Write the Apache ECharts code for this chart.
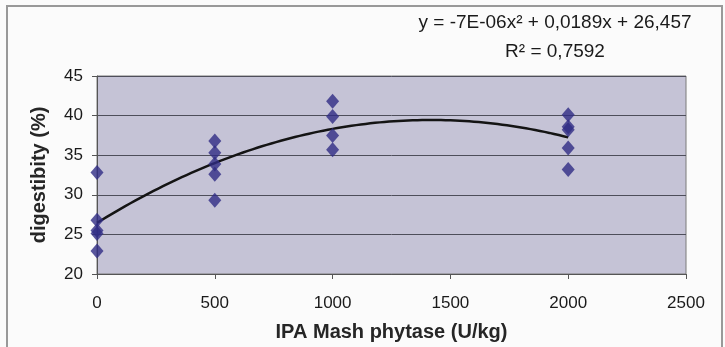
<!DOCTYPE html>
<html>
<head>
<meta charset="utf-8">
<script src="https://cdn.jsdelivr.net/npm/echarts@6/dist/echarts.min.js"></script>
<style>
  html, body { margin: 0; padding: 0; background: #fbfbfb; }
  #chart { width: 725px; height: 347px; }
</style>
</head>
<body>
<div id="chart"></div>
<script>
// Phytase dose (U/kg) for each observation and the measured digestibility (%)
const doses = [0, 0, 0, 0, 0, 500, 500, 500, 500, 500, 1000, 1000, 1000, 1000, 2000, 2000, 2000, 2000, 2000];
const digestibility = [32.8, 26.8, 25.5, 25.1, 22.9, 36.8, 35.3, 33.9, 32.6, 29.3, 41.8, 39.9, 37.5, 35.7, 40.1, 38.6, 38.2, 35.9, 33.2];

// Axis tick values
const xTicks = [0, 500, 1000, 1500, 2000, 2500];
const yTicks = [20, 25, 30, 35, 40, 45];

// Trendline caption
const equationText = 'y = -7E-06x\u00B2 + 0,0189x + 26,457';
const r2Text = 'R\u00B2 = 0,7592';

// Second-order least-squares fit of the observations (the polynomial trendline)
function quadFit(xs, ys) {
  const s = new Array(5).fill(0), t = new Array(3).fill(0);
  for (let i = 0; i < xs.length; i++) {
    let p = 1;
    for (let k = 0; k < 5; k++) { s[k] += p; if (k < 3) t[k] += p * ys[i]; p *= xs[i]; }
  }
  // normal equations M * [c, b, a] = t
  const M = [[s[0], s[1], s[2], t[0]], [s[1], s[2], s[3], t[1]], [s[2], s[3], s[4], t[2]]];
  for (let i = 0; i < 3; i++) {
    for (let j = i + 1; j < 3; j++) {
      const f = M[j][i] / M[i][i];
      for (let k = i; k < 4; k++) M[j][k] -= f * M[i][k];
    }
  }
  const r = [0, 0, 0];
  for (let i = 2; i >= 0; i--) {
    let v = M[i][3];
    for (let k = i + 1; k < 3; k++) v -= M[i][k] * r[k];
    r[i] = v / M[i][i];
  }
  return r; // [c, b, a]
}

const coef = quadFit(doses, digestibility);
const xMinData = Math.min(...doses), xMaxData = Math.max(...doses);
const trend = [];
for (let i = 0; i <= 100; i++) {
  const x = xMinData + (xMaxData - xMinData) * i / 100;
  trend.push([x, coef[0] + coef[1] * x + coef[2] * x * x]);
}

const points = doses.map((d, i) => [d, digestibility[i]]);

const font = '"Liberation Sans", Arial, sans-serif';
const chart = echarts.init(document.getElementById('chart'), null, { renderer: 'canvas' });

chart.setOption({
  backgroundColor: '#fbfbfb',
  animation: false,
  grid: {
    left: 97, right: 39, top: 76, bottom: 73,
    show: true,
    backgroundColor: '#c5c3d6',
    borderColor: '#7a7a7a',
    borderWidth: 1
  },
  xAxis: {
    type: 'value',
    min: xTicks[0], max: xTicks[xTicks.length - 1], interval: 500,
    name: 'IPA Mash phytase (U/kg)',
    nameLocation: 'middle',
    nameGap: 48,
    nameTextStyle: { fontFamily: font, fontSize: 20, fontWeight: 'bold', color: '#262626' },
    axisLine: { lineStyle: { color: '#555', width: 1 } },
    axisTick: { show: true, length: 5, lineStyle: { color: '#555' } },
    axisLabel: { fontFamily: font, fontSize: 17, color: '#1a1a1a', margin: 21, formatter: v => String(v) },
    splitLine: { show: false }
  },
  yAxis: {
    type: 'value',
    min: yTicks[0], max: yTicks[yTicks.length - 1], interval: 5,
    name: 'digestibity (%)',
    nameLocation: 'middle',
    nameGap: 48,
    nameTextStyle: { fontFamily: font, fontSize: 20, fontWeight: 'bold', color: '#262626' },
    axisLine: { show: true, lineStyle: { color: '#555', width: 1 } },
    axisTick: { show: true, length: 5, lineStyle: { color: '#555' } },
    axisLabel: { fontFamily: font, fontSize: 17, color: '#1a1a1a', margin: 14 },
    splitLine: { show: true, lineStyle: { color: '#4e4e5a', width: 1 } }
  },
  series: [
    {
      type: 'line',
      data: trend,
      showSymbol: false,
      smooth: false,
      lineStyle: { color: '#141414', width: 2.5 },
      z: 3
    },
    {
      type: 'scatter',
      data: points,
      symbol: 'diamond',
      symbolSize: [13, 15],
      itemStyle: { color: '#2f2c84' },
      z: 4
    }
  ],
  graphic: [
    {
      type: 'rect',
      shape: { x: 7, y: 6, width: 715, height: 360 },
      style: { fill: 'none', stroke: '#999', lineWidth: 2 },
      silent: true
    },
    {
      type: 'text', x: 555, y: 23,
      style: { text: equationText, font: '19px ' + font, fill: '#1a1a1a', textAlign: 'center', textVerticalAlign: 'middle' }
    },
    {
      type: 'text', x: 555, y: 52,
      style: { text: r2Text, font: '19px ' + font, fill: '#1a1a1a', textAlign: 'center', textVerticalAlign: 'middle' }
    }
  ]
});
</script>
</body>
</html>
